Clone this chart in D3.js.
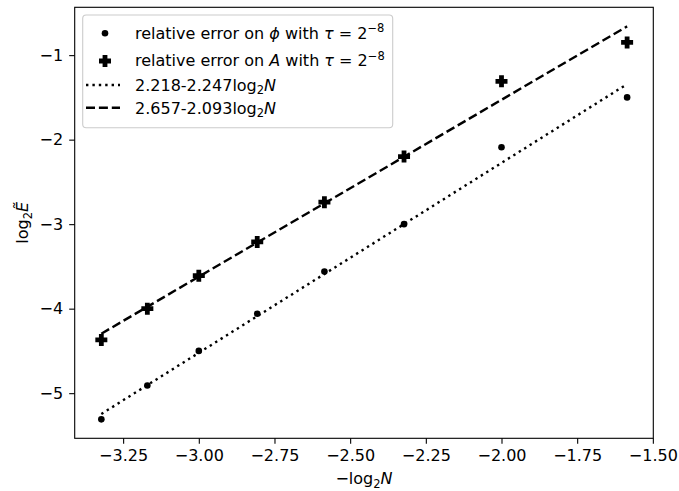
<!DOCTYPE html>
<meta charset="utf-8">
<style>
  body { margin: 0; background: #fff; }
  text { font-family: "DejaVu Sans", sans-serif; fill: #000; }
  .axis path, .axis line { stroke: #000; stroke-width: 1.1px; }
  .axis text { font-size: 16px; font-family: "DejaVu Sans", sans-serif; }
</style>
<body>
<script src="https://d3js.org/d3.v7.min.js"></script>
<script>
// x = -log2 N for N = 10 .. 3
var xVals = [-3.322, -3.170, -3.000, -2.807, -2.585, -2.322, -2.000, -1.585];
var errPhi = [-5.31, -4.91, -4.50, -4.06, -3.56, -3.00, -2.09, -1.50];
var errA = [-4.37, -4.00, -3.61, -3.21, -2.74, -2.20, -1.31, -0.85];
// fitted lines, read at the two ends
var fitX = [-3.322, -1.585];
var fitPhi = [-5.246, -1.343];
var fitA = [-4.296, -0.660];
var xTicks = [-3.25, -3.00, -2.75, -2.50, -2.25, -2.00, -1.75, -1.50];
var yTicks = [-5, -4, -3, -2, -1];

var width = 679, height = 491;
var margin = {top: 7.3, right: 25.7, bottom: 52.7, left: 74.7};
var w = width - margin.left - margin.right,
    h = height - margin.top - margin.bottom;

var svg = d3.select("body").append("svg")
    .attr("width", width)
    .attr("height", height);

var g = svg.append("g")
    .attr("transform", "translate(" + margin.left + "," + margin.top + ")");

var x = d3.scaleLinear().domain([-3.410, -1.4985]).range([0, w]);
var y = d3.scaleLinear().domain([-5.534, -0.434]).range([h, 0]);

var fmtX = function(d) { return d3.format(".2f")(d).replace("-", "\u2212"); };
var fmtY = function(d) { return String(d).replace("-", "\u2212"); };

g.append("g")
    .attr("class", "axis")
    .attr("transform", "translate(0," + h + ")")
    .call(d3.axisBottom(x).tickValues(xTicks).tickFormat(fmtX).tickSize(5.5).tickPadding(6).tickSizeOuter(0))
    .call(function(s) { s.select(".domain").remove(); });

g.append("g")
    .attr("class", "axis")
    .call(d3.axisLeft(y).tickValues(yTicks).tickFormat(fmtY).tickSize(5.5).tickPadding(6).tickSizeOuter(0))
    .call(function(s) { s.select(".domain").remove(); });

// fitted lines
var line = d3.line()
    .x(function(d) { return x(d[0]); })
    .y(function(d) { return y(d[1]); });

g.append("path")
    .datum(fitX.map(function(v, i) { return [v, fitPhi[i]]; }))
    .attr("d", line)
    .attr("fill", "none")
    .attr("stroke", "#000")
    .attr("stroke-width", 2.4)
    .attr("stroke-dasharray", "2.4,4");

g.append("path")
    .datum(fitX.map(function(v, i) { return [v, fitA[i]]; }))
    .attr("d", line)
    .attr("fill", "none")
    .attr("stroke", "#000")
    .attr("stroke-width", 2.4)
    .attr("stroke-dasharray", "9,3.9");

// markers
function plusPath(s) {
  var a = s / 2, b = s * 0.2;
  return "M" + (-b) + "," + (-a) + "H" + b + "V" + (-b) + "H" + a + "V" + b + "H" + b +
         "V" + a + "H" + (-b) + "V" + b + "H" + (-a) + "V" + (-b) + "H" + (-b) + "Z";
}

g.selectAll(".dot")
    .data(xVals)
  .enter().append("circle")
    .attr("class", "dot")
    .attr("cx", function(d) { return x(d); })
    .attr("cy", function(d, i) { return y(errPhi[i]); })
    .attr("r", 3.3)
    .attr("fill", "#000");

g.selectAll(".plus")
    .data(xVals)
  .enter().append("path")
    .attr("class", "plus")
    .attr("d", plusPath(12))
    .attr("transform", function(d, i) { return "translate(" + x(d) + "," + y(errA[i]) + ")"; })
    .attr("fill", "#000");

// frame
g.append("rect")
    .attr("width", w)
    .attr("height", h)
    .attr("fill", "none")
    .attr("stroke", "#000")
    .attr("stroke-width", 1.1);

// axis labels
var xl = svg.append("text")
    .attr("x", margin.left + w / 2)
    .attr("y", 484)
    .attr("text-anchor", "middle")
    .style("font-size", "16px");
xl.append("tspan").text("\u2212log");
xl.append("tspan").attr("dy", 3.5).style("font-size", "11.5px").text("2");
xl.append("tspan").attr("dy", -3.5).style("font-style", "italic").text("N");

var yl = svg.append("text")
    .attr("transform", "translate(28," + (margin.top + h / 2) + ") rotate(-90)")
    .attr("text-anchor", "middle")
    .style("font-size", "16px");
yl.append("tspan").text("log");
yl.append("tspan").attr("dy", 3.5).style("font-size", "11.5px").text("2");
yl.append("tspan").attr("dy", -3.5).style("font-style", "italic").text("\u1EBC");

// legend
var lg = svg.append("g");
lg.append("rect")
    .attr("x", 82.7).attr("y", 15)
    .attr("width", 310).attr("height", 112.7)
    .attr("rx", 3.5)
    .attr("fill", "#fff")
    .attr("fill-opacity", 0.8)
    .attr("stroke", "#ccc")
    .attr("stroke-width", 1.1);

lg.append("circle").attr("cx", 105).attr("cy", 33.3).attr("r", 3.3).attr("fill", "#000");
lg.append("path").attr("d", plusPath(12)).attr("transform", "translate(105,61)").attr("fill", "#000");
lg.append("line").attr("x1", 86).attr("x2", 120).attr("y1", 85).attr("y2", 85)
    .attr("stroke", "#000").attr("stroke-width", 2.4).attr("stroke-dasharray", "2.4,4");
lg.append("line").attr("x1", 86).attr("x2", 120).attr("y1", 107.7).attr("y2", 107.7)
    .attr("stroke", "#000").attr("stroke-width", 2.4).attr("stroke-dasharray", "9,3.9");

function legendText(yb, parts) {
  var t = lg.append("text").attr("x", 135).attr("y", yb).style("font-size", "16px");
  parts.forEach(function(p) {
    var s = t.append("tspan").text(p.t);
    if (p.it) s.style("font-style", "italic");
    if (p.dy) s.attr("dy", p.dy);
    if (p.small) s.style("font-size", "11.5px");
  });
}
legendText(38.5, [{t: "relative error on "}, {t: "\u03D5", it: true}, {t: " with "}, {t: "\u03C4", it: true},
  {t: " = 2"}, {t: "\u22128", dy: -6.5, small: true}]);
legendText(66, [{t: "relative error on "}, {t: "A", it: true}, {t: " with "}, {t: "\u03C4", it: true},
  {t: " = 2"}, {t: "\u22128", dy: -6.5, small: true}]);
legendText(90.5, [{t: "2.218-2.247log"}, {t: "2", dy: 3.5, small: true}, {t: "N", dy: -3.5, it: true}]);
legendText(113.5, [{t: "2.657-2.093log"}, {t: "2", dy: 3.5, small: true}, {t: "N", dy: -3.5, it: true}]);
</script>
</body>
